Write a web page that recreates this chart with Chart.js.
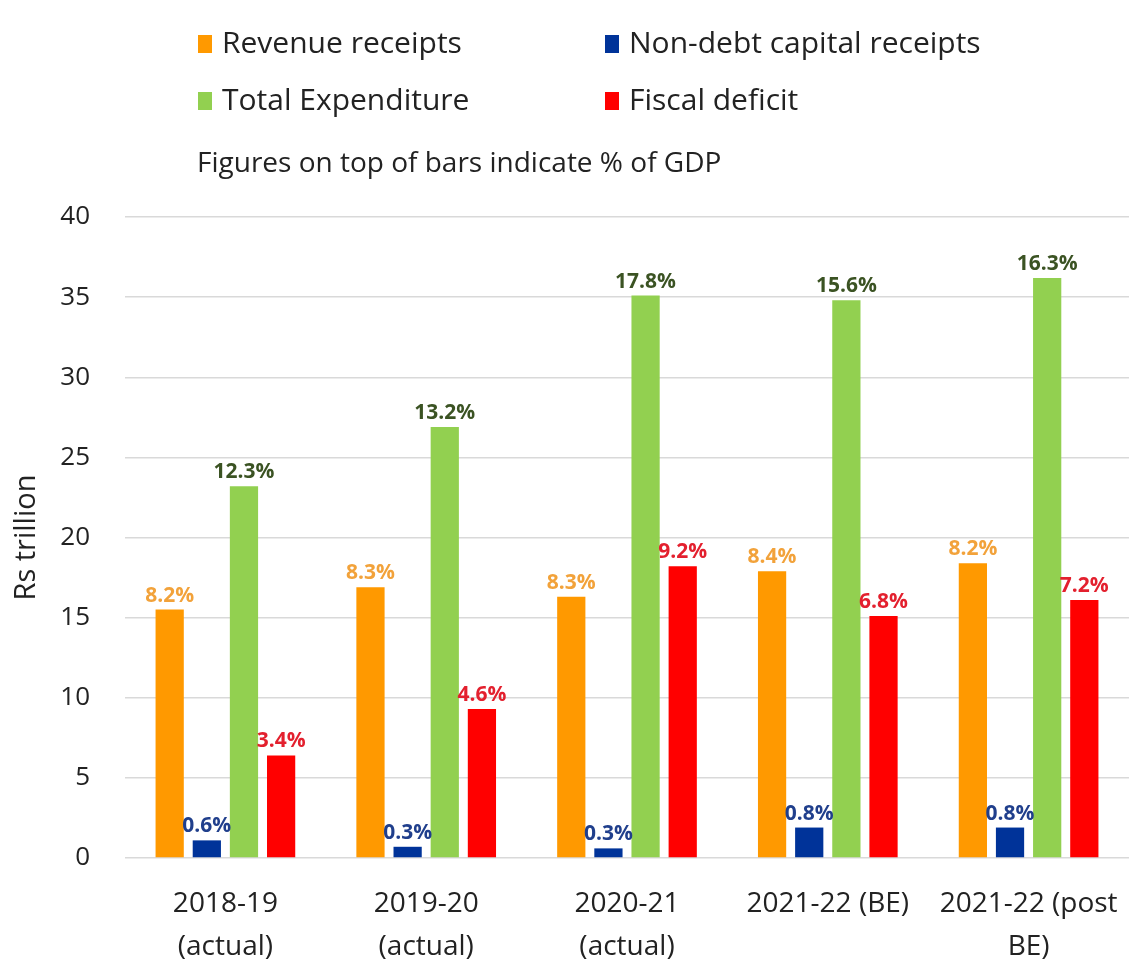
<!DOCTYPE html>
<html>
<head>
<meta charset="utf-8">
<script src="https://cdn.jsdelivr.net/npm/chart.js@4/dist/chart.umd.min.js"></script>
<style>
  body { margin: 0; background: #fff; }
  #wrap { width: 1129px; height: 965px; }
</style>
</head>
<body>
<div id="wrap"><canvas id="myChart" width="1129" height="965"></canvas></div>
<script>
const years = [
    ['2018-19', '(actual)'],
    ['2019-20', '(actual)'],
    ['2020-21', '(actual)'],
    '2021-22 (BE)',
    ['2021-22 (post', 'BE)']
]

// Rs trillion
const revenueReceipts = [15.5, 16.9, 16.3, 17.9, 18.4]
const nonDebtReceipts = [1.1, 0.7, 0.6, 1.9, 1.9]
const totalExpenditure = [23.2, 26.9, 35.1, 34.8, 36.2]
const fiscalDeficit = [6.4, 9.3, 18.2, 15.1, 16.1]

// % of GDP, written above each bar
const revenuePct = ['8.2%', '8.3%', '8.3%', '8.4%', '8.2%']
const nonDebtPct = ['0.6%', '0.3%', '0.3%', '0.8%', '0.8%']
const expenditurePct = ['12.3%', '13.2%', '17.8%', '15.6%', '16.3%']
const deficitPct = ['3.4%', '4.6%', '9.2%', '6.8%', '7.2%']

const yTicks = [0, 5, 10, 15, 20, 25, 30, 35, 40]

const FONT = '"Open Sans", "Noto Sans", sans-serif'
Chart.defaults.font.family = FONT
Chart.defaults.color = '#222'

const series = [
    { label: 'Revenue receipts', data: revenueReceipts, color: '#FF9900', pct: revenuePct, pctColor: '#F2A23A' },
    { label: 'Non-debt capital receipts', data: nonDebtReceipts, color: '#003399', pct: nonDebtPct, pctColor: '#203F8C' },
    { label: 'Total Expenditure', data: totalExpenditure, color: '#92D050', pct: expenditurePct, pctColor: '#3B5323' },
    { label: 'Fiscal deficit', data: fiscalDeficit, color: '#FF0000', pct: deficitPct, pctColor: '#E3202E' }
]

// legend laid out as a 2x2 grid plus the note under it
const topLegend = {
    id: 'topLegend',
    afterDraw(chart) {
        const ctx = chart.ctx
        const spots = [[198, 44], [605, 44], [198, 101], [605, 101]]
        ctx.save()
        ctx.textBaseline = 'middle'
        ctx.textAlign = 'left'
        ctx.font = '30px ' + FONT
        chart.data.datasets.forEach((ds, i) => {
            const [x, y] = spots[i]
            ctx.fillStyle = ds.backgroundColor
            ctx.fillRect(x, y - 9, 14, 18)
            ctx.fillStyle = '#222'
            ctx.fillText(ds.label, x + 24, y)
        })
        ctx.font = '28px ' + FONT
        ctx.fillText('Figures on top of bars indicate % of GDP', 197, 164)
        ctx.restore()
    }
}

const pctLabels = {
    id: 'pctLabels',
    afterDatasetsDraw(chart) {
        const ctx = chart.ctx
        ctx.save()
        ctx.textAlign = 'center'
        ctx.textBaseline = 'alphabetic'
        ctx.font = 'bold 21px ' + FONT
        chart.data.datasets.forEach((ds, i) => {
            const meta = chart.getDatasetMeta(i)
            meta.data.forEach((bar, j) => {
                ctx.fillStyle = series[i].pctColor
                ctx.fillText(series[i].pct[j], bar.x, bar.y - 8)
            })
        })
        ctx.restore()
    }
}

const config = {
    type: 'bar',
    data: {
        labels: years,
        datasets: series.map((s) => ({
            label: s.label,
            data: s.data,
            backgroundColor: s.color,
            barPercentage: 0.76,
            categoryPercentage: 0.74
        }))
    },
    options: {
        responsive: false,
        animation: false,
        layout: { padding: { top: 217, right: 0, bottom: 0, left: 0 } },
        plugins: {
            legend: { display: false },
            tooltip: { enabled: false }
        },
        scales: {
            x: {
                grid: { display: false, drawTicks: false },
                border: { display: false },
                ticks: {
                    font: { size: 28, lineHeight: 1.55 },
                    color: '#222',
                    padding: 24,
                    autoSkip: false,
                    maxRotation: 0
                },
                afterFit: (s) => {
                    s.height = 107
                    // let the plot run to the right edge
                    s.paddingLeft = 0
                    s.paddingRight = 0
                }
            },
            y: {
                min: 0,
                max: 40,
                afterBuildTicks: (s) => { s.ticks = yTicks.map((v) => ({ value: v })) },
                grid: { color: '#D9D9D9', lineWidth: 1.5, drawTicks: false },
                border: { display: false },
                ticks: { font: { size: 26 }, color: '#222', padding: 35 },
                title: {
                    display: true,
                    text: 'Rs trillion',
                    font: { size: 29 },
                    color: '#222',
                    padding: { top: 9, bottom: 0 }
                },
                afterFit: (s) => { s.width = 125 }
            }
        }
    },
    plugins: [topLegend, pctLabels]
}

const chart = new Chart(document.querySelector('#myChart'), config)
</script>
</body>
</html>
